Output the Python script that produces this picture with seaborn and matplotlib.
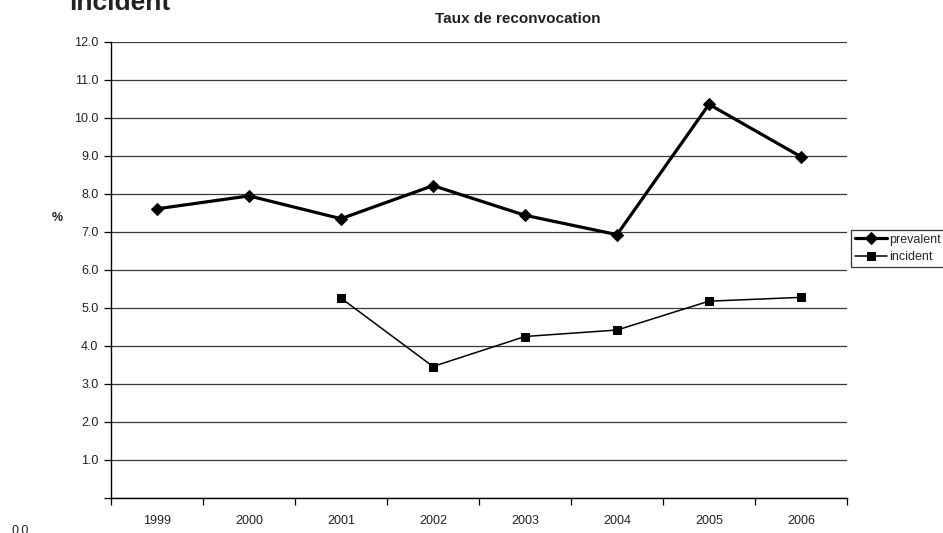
import numpy as np
import pandas as pd
import matplotlib
matplotlib.use("Agg")
import matplotlib.pyplot as plt
import seaborn as sns

# Rates per year (%)
years = ["1999", "2000", "2001", "2002", "2003", "2004", "2005", "2006"]
prevalent = [7.61, 7.95, 7.35, 8.22, 7.44, 6.93, 10.36, 8.98]
incident = [np.nan, np.nan, 5.26, 3.46, 4.25, 4.42, 5.18, 5.28]
y_ticks = [0, 1, 2, 3, 4, 5, 6, 7, 8, 9, 10, 11, 12]

sns.set_style("white")
plt.rcParams["font.family"] = ["Liberation Sans", "DejaVu Sans"]

pos = np.arange(len(years))
df = pd.DataFrame({"pos": pos, "prevalent": prevalent, "incident": incident})

fig = plt.figure(figsize=(9.43, 5.33), dpi=100)
ax = fig.add_axes([111 / 943, 1 - 498 / 533, 736 / 943, 456 / 533])

sns.lineplot(data=df, x="pos", y="prevalent", ax=ax, color="black",
             linewidth=2.3, marker="D", markersize=6.5, markeredgecolor="black",
             label="prevalent")
sns.lineplot(data=df.dropna(), x="pos", y="incident", ax=ax, color="black",
             linewidth=1.1, marker="s", markersize=6, markeredgecolor="black",
             label="incident")

ax.set_xlim(-0.5, len(years) - 0.5)
ax.set_ylim(0, 12)

# horizontal grid
ax.set_yticks(y_ticks)
ax.set_yticklabels([""] + [f"{v:.1f}" for v in y_ticks[1:]])
ax.yaxis.grid(True, color="#3a3a3a", linewidth=0.9)
ax.xaxis.grid(False)
ax.set_axisbelow(True)

# category labels with boundary tick marks
ax.set_xticks(pos)
ax.set_xticklabels(years)
ax.set_xticks(np.arange(-0.5, len(years), 1.0), minor=True)
ax.tick_params(axis="x", which="major", length=0, pad=12, labelsize=9,
               labelcolor="#222222")
ax.tick_params(axis="x", which="minor", length=5, width=0.9, color="black",
               direction="out", bottom=True)
ax.tick_params(axis="y", which="major", length=5, width=0.9, color="black",
               direction="out", left=True, pad=4, labelsize=9,
               labelcolor="#222222")

for side in ["top", "right"]:
    ax.spines[side].set_visible(False)
for side in ["left", "bottom"]:
    ax.spines[side].set_color("black")
    ax.spines[side].set_linewidth(1.0)

ax.set_xlabel("")
ax.set_ylabel("%", rotation=0, fontsize=9, fontweight="bold",
              color="#222222", labelpad=0, va="center", ha="center")
ax.yaxis.set_label_coords(-54 / 736, 1 - (218 - 42) / 456)

fig.text(518 / 943, 1 - 19 / 533, "Taux de reconvocation", fontsize=11,
         fontweight="bold", color="#222222", ha="center", va="center")

leg = ax.legend(loc="upper left", bbox_to_anchor=(851 / 943, 1 - 230 / 533),
                bbox_transform=fig.transFigure, fontsize=9, frameon=True,
                fancybox=False, edgecolor="black", borderpad=0.3,
                handlelength=2.6, handletextpad=0.15, labelspacing=0.45,
                borderaxespad=0)
leg.get_frame().set_linewidth(0.9)

fig.text(69 / 943, 1 - 9.5 / 533, "incident", fontsize=19, fontweight="bold",
         color="#222222", ha="left", va="baseline")
fig.text(20 / 943, 1 - 525 / 533, "0.0", fontsize=9, color="#222222",
         ha="center", va="top")

fig.savefig("out.png", dpi=100)
